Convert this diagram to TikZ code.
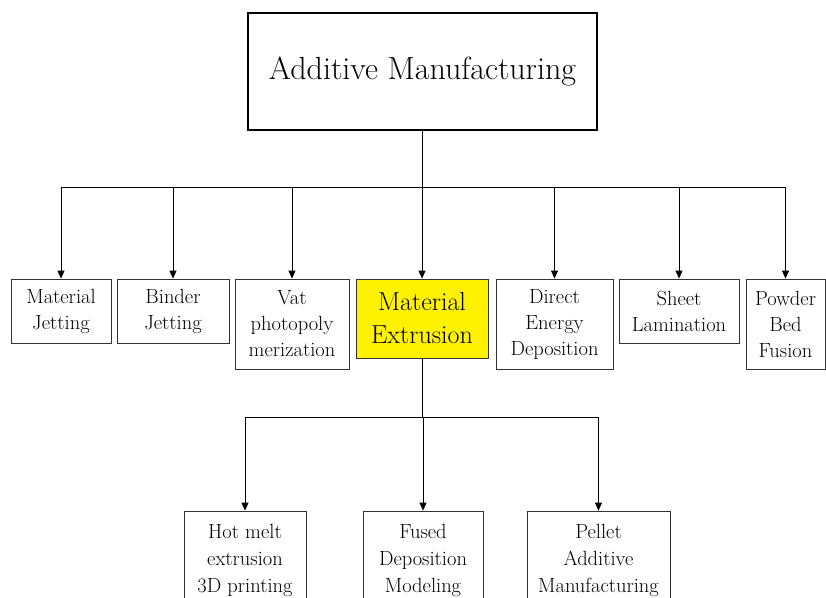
\documentclass[tikz,border=0pt]{standalone}
\usetikzlibrary{arrows.meta}
\tikzset{
    box/.style={draw=black!80, line width=0.8pt, align=center, inner sep=0pt, font=\fontsize{20.5}{26}\selectfont},
    link/.style={line width=0.8pt, -{Triangle[width=7pt,length=8pt]}}
}
\begin{document}
\begin{tikzpicture}[x=1pt,y=-1pt]
    \useasboundingbox (0,0) rectangle (826,597);
    \clip (0,0) rectangle (826,597);

    \node[draw, line width=2pt, minimum width=349, minimum height=117, font=\fontsize{32}{38}\selectfont] (am) at (422.5,71.5) {Additive Manufacturing};

    \node[box, minimum width=100, minimum height=64] (mj) at (61,311) {Material\\Jetting};
    \node[box, minimum width=112, minimum height=64] (bj) at (173,311) {Binder\\Jetting};
    \node[box, minimum width=114, minimum height=90] (vat) at (292,324) {Vat\\photopoly\\merization};
    \node[box, fill=yellow, minimum width=132, minimum height=79, font=\fontsize{26}{33}\selectfont] (me) at (422,318.5) {Material\\Extrusion};
    \node[box, minimum width=117, minimum height=90] (ded) at (554.5,324) {Direct\\Energy\\Deposition};
    \node[box, minimum width=120, minimum height=64] (sl) at (679,311) {Sheet\\Lamination};
    \node[box, minimum width=79, minimum height=90] (pbf) at (785.5,324) {Powder\\Bed\\Fusion};

    \node[box, minimum width=122, minimum height=98, font=\fontsize{20.5}{27}\selectfont] (hm) at (245,560) {Hot melt\\extrusion\\3D printing};
    \node[box, minimum width=120, minimum height=98, font=\fontsize{20.5}{27}\selectfont] (fdm) at (423,560) {Fused\\Deposition\\Modeling};
    \node[box, minimum width=143, minimum height=98, font=\fontsize{20.5}{27}\selectfont] (pam) at (598.5,560) {Pellet\\Additive\\Manufacturing};

    % first level
    \coordinate (bus) at (423,187);
    \draw[line width=0.8pt] (am.south) -- (am.south |- bus);
    \draw[line width=0.8pt] (mj.north |- bus) -- (pbf.north |- bus);
    \foreach \n in {mj,bj,vat,me,ded,sl,pbf}
        \draw[link] (\n.north |- bus) -- (\n.north);

    % second level
    \coordinate (bus2) at (423,417);
    \draw[line width=0.8pt] (me.south) -- (me.south |- bus2);
    \draw[line width=0.8pt] (hm.north |- bus2) -- (pam.north |- bus2);
    \foreach \n in {hm,fdm,pam}
        \draw[link] (\n.north |- bus2) -- (\n.north);
\end{tikzpicture}
\end{document}
